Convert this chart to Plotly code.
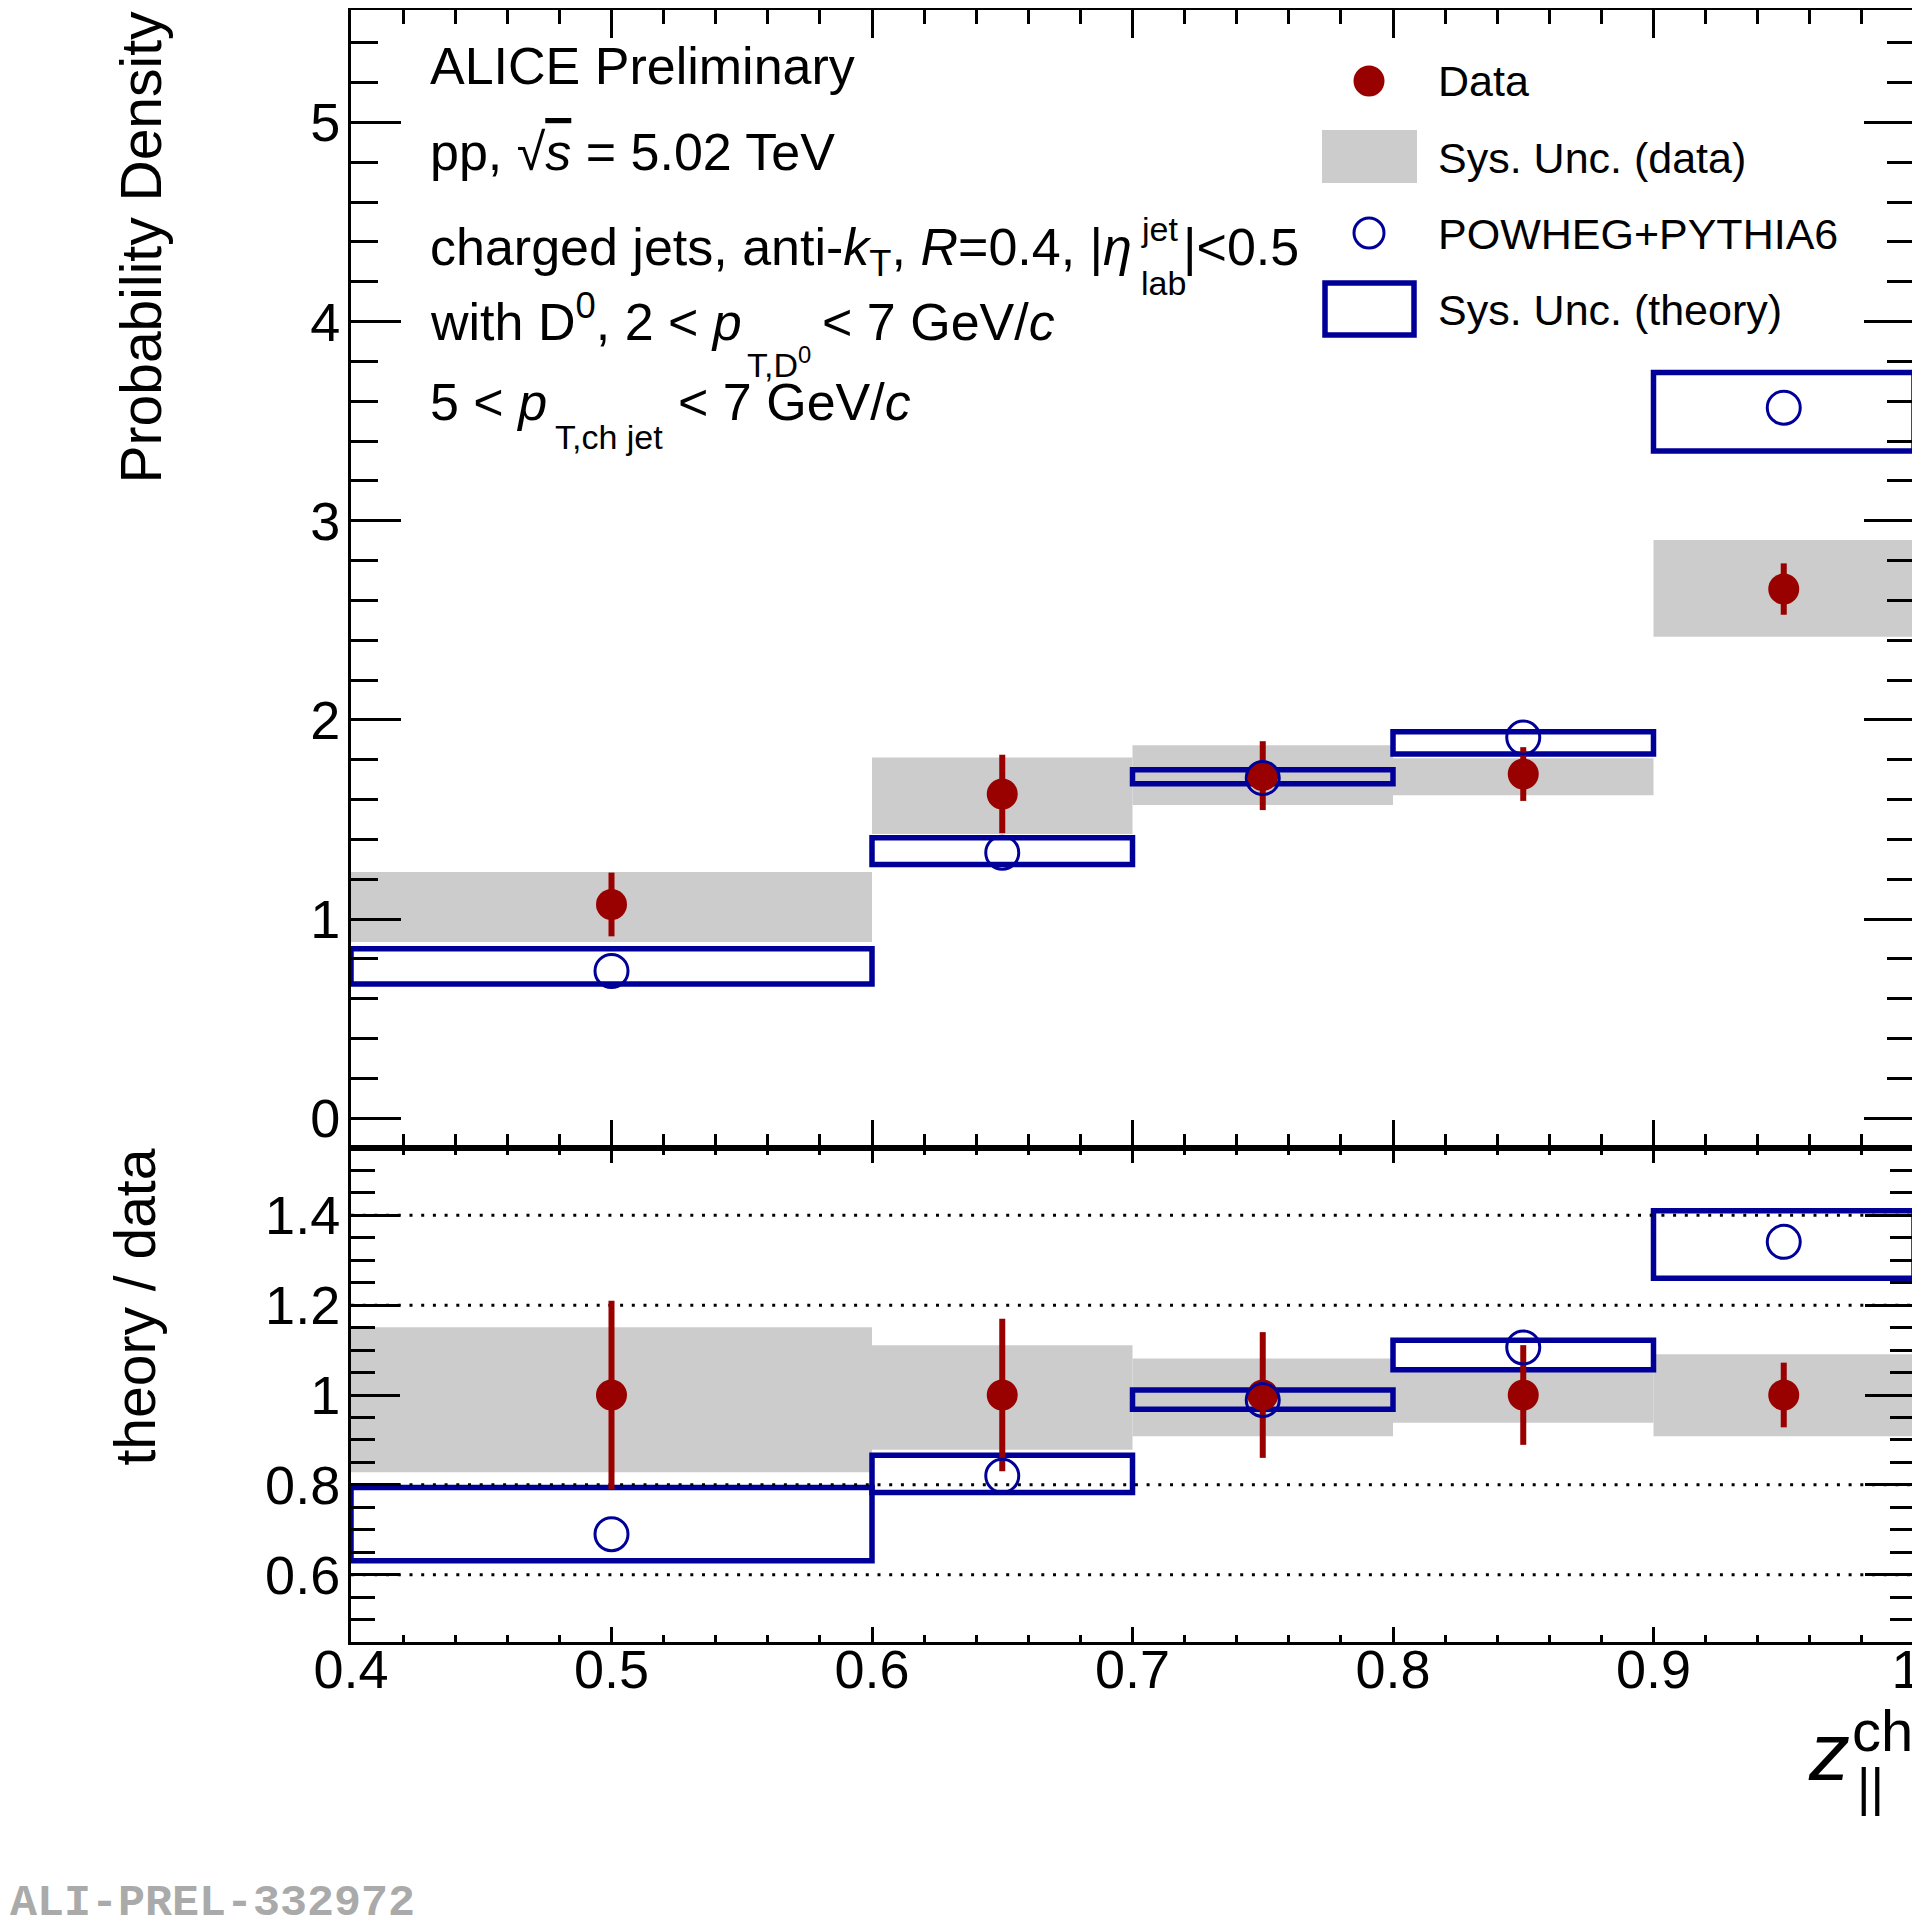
import plotly.graph_objects as go

# z_||^ch binning
z_edges = [0.4, 0.6, 0.7, 0.8, 0.9, 1.0]
z_centres = [0.5, 0.65, 0.75, 0.85, 0.95]

# upper panel: probability density
data_val = [1.073, 1.628, 1.72, 1.728, 2.657]
data_stat = [0.16, 0.197, 0.173, 0.135, 0.129]
data_sys_lo = [0.885, 1.427, 1.572, 1.621, 2.417]
data_sys_hi = [1.236, 1.811, 1.873, 1.807, 2.903]
theo_val = [0.739, 1.333, 1.708, 1.911, 3.568]
theo_sys_lo = [0.674, 1.274, 1.679, 1.829, 3.35]
theo_sys_hi = [0.850, 1.408, 1.749, 1.941, 3.744]

# lower panel: theory / data
ratio_data = [1.0, 1.0, 1.0, 1.0, 1.0]
ratio_stat = [0.21, 0.17, 0.14, 0.111, 0.072]
ratio_sys_lo = [0.828, 0.878, 0.908, 0.938, 0.908]
ratio_sys_hi = [1.151, 1.111, 1.081, 1.062, 1.091]
ratio_theo = [0.690, 0.820, 0.989, 1.106, 1.341]
ratio_theo_lo = [0.631, 0.783, 0.968, 1.056, 1.260]
ratio_theo_hi = [0.794, 0.866, 1.011, 1.122, 1.410]
ratio_lines = [0.6, 0.8, 1.2, 1.4]

# ticks
x_ticks = [0.4, 0.5, 0.6, 0.7, 0.8, 0.9, 1.0]
x_labels = ['0.4', '0.5', '0.6', '0.7', '0.8', '0.9', '1&nbsp;']
y_ticks = [0, 1, 2, 3, 4, 5]
y_labels = ['0', '1', '2', '3', '4', '5']
r_ticks = [0.6, 0.8, 1.0, 1.2, 1.4]
r_labels = ['0.6', '0.8', '1', '1.2', '1.4']

# the page body has an 8px margin, so the figure starts at (8, 8) on screen
OFF = 8
W, H = 1912, 1911
FONT = 'Liberation Sans, Arial, Helvetica, sans-serif'
RED = '#990000'
BLUE = '#000099'
GREY = '#cccccc'


def px(x):
   # screen pixel -> paper x
   return (x - OFF) / W


def py(y):
   # screen pixel (from top) -> paper y
   return 1 - (y - OFF) / H


widths = [b - a for a, b in zip(z_edges[:-1], z_edges[1:])]

fig = go.Figure()


def add_panel(xa, ya, val, stat, s_lo, s_hi, th, t_lo, t_hi):
   fig.add_trace(go.Bar(
      x=z_centres, y=[h - l for l, h in zip(s_lo, s_hi)], base=s_lo, width=widths,
      marker=dict(color=GREY, line=dict(width=0)),
      xaxis=xa, yaxis=ya, showlegend=False, hoverinfo='skip'))
   fig.add_trace(go.Bar(
      x=z_centres, y=[h - l for l, h in zip(t_lo, t_hi)], base=t_lo, width=widths,
      marker=dict(color='rgba(0,0,0,0)', line=dict(color=BLUE, width=5.5)),
      xaxis=xa, yaxis=ya, showlegend=False, hoverinfo='skip'))
   fig.add_trace(go.Scatter(
      x=z_centres, y=val, mode='markers',
      marker=dict(symbol='circle', size=31, color=RED),
      error_y=dict(type='data', array=stat, visible=True, color=RED, thickness=6, width=0),
      xaxis=xa, yaxis=ya, showlegend=False))
   fig.add_trace(go.Scatter(
      x=z_centres, y=th, mode='markers',
      marker=dict(symbol='circle-open', size=33, color=BLUE, line=dict(width=3)),
      xaxis=xa, yaxis=ya, showlegend=False))


# dotted reference lines in the ratio
for v in ratio_lines:
   fig.add_trace(go.Scatter(
      x=[z_edges[0], z_edges[-1]], y=[v, v], mode='lines',
      line=dict(color='black', width=3, dash='3px,8.7px'),
      xaxis='x2', yaxis='y2', showlegend=False, hoverinfo='skip'))

add_panel('x', 'y', data_val, data_stat, data_sys_lo, data_sys_hi,
          theo_val, theo_sys_lo, theo_sys_hi)
add_panel('x2', 'y2', ratio_data, ratio_stat, ratio_sys_lo, ratio_sys_hi,
          ratio_theo, ratio_theo_lo, ratio_theo_hi)

axis_style = dict(
   showline=True, linecolor='black', linewidth=3, mirror='allticks',
   ticks='inside', tickcolor='black', tickwidth=3,
   showgrid=False, zeroline=False, automargin=False,
   ticklabeloverflow='allow',
   tickfont=dict(family=FONT, size=54, color='black'),
)


def minor(dtick, length, tick0=0):
   return dict(tickmode='linear', tick0=tick0, dtick=dtick, ticklen=length,
               tickwidth=3, tickcolor='black', ticks='inside')


x_dom = [px(351), px(1914)]

fig.update_layout(
   width=W, height=H,
   margin=dict(l=0, r=0, t=0, b=0),
   paper_bgcolor='white', plot_bgcolor='white',
   barmode='overlay',
   font=dict(family=FONT, color='black'),
   xaxis=dict(axis_style, domain=x_dom, anchor='y', range=[0.4, 1.0],
              tickmode='array', tickvals=x_ticks, showticklabels=False,
              ticklen=28, minor=minor(0.02, 14, 0.4)),
   yaxis=dict(axis_style, domain=[py(1148), py(10)], anchor='x', range=[-0.15, 5.565],
              tickmode='array', tickvals=y_ticks, ticktext=y_labels,
              ticklen=50, ticklabelstandoff=-3, minor=minor(0.2, 27)),
   xaxis2=dict(axis_style, domain=x_dom, anchor='y2', range=[0.4, 1.0],
               tickmode='array', tickvals=x_ticks, ticktext=x_labels,
               ticklen=15, ticklabelstandoff=-22, minor=minor(0.02, 7, 0.4)),
   yaxis2=dict(axis_style, domain=[py(1642), py(1148)], anchor='x2', range=[0.45, 1.55],
               tickmode='array', tickvals=r_ticks, ticktext=r_labels,
               ticklen=49, ticklabelstandoff=-3, minor=minor(0.05, 24)),
)


def note(text, x, y, size, xanchor='left', yanchor='middle', **kw):
   return dict(text=text, x=px(x), y=py(y), xref='paper', yref='paper',
               xanchor=xanchor, yanchor=yanchor, showarrow=False,
               font=dict(family=kw.pop('family', FONT), size=size,
                         color=kw.pop('color', 'black')), **kw)


annotations = [
   note('ALICE Preliminary', 428, 66, 52),
   note('pp, √<span style="text-decoration:overline"><i>s</i></span> = 5.02 TeV', 428, 152, 52),
   note('charged jets, anti-<i>k</i><sub>T</sub>, <i>R</i>=0.4, |<i>η</i>', 428, 251, 52),
   note('jet', 1139, 229, 34),
   note('lab', 1139, 283, 34),
   note('|&lt;0.5', 1181, 247, 52),
   note('with D<sup>0</sup>, 2 &lt; <i>p</i>', 428, 318, 52),
   note('T,D<sup>0</sup>', 745, 362, 34),
   note('&lt; 7 GeV/<i>c</i>', 820, 322, 52),
   note('5 &lt; <i>p</i>', 428, 402, 52),
   note('T,ch jet', 553, 437, 34),
   note('&lt; 7 GeV/<i>c</i>', 676, 402, 52),
   # legend
   note('Data', 1436, 81, 43),
   note('Sys. Unc. (data)', 1436, 158, 43),
   note('POWHEG+PYTHIA6', 1436, 234, 43),
   note('Sys. Unc. (theory)', 1436, 310, 43),
   # axis titles
   note('Probability Density', 141, 9, 57, xanchor='center', yanchor='top', textangle=-90),
   note('theory / data', 134, 1147, 57, xanchor='center', yanchor='top', textangle=-90),
   note('<i>z</i>', 1852, 1751, 82, xanchor='right'),
   note('ch', 1850, 1730, 58),
   note('||', 1855, 1787, 52),
   # watermark
   note('<b>ALI-PREL-332972</b>', 8, 1903, 45, family='Liberation Mono, Courier New, monospace',
        color='#aaaaaa'),
]

shapes = [
   dict(type='circle', xref='paper', yref='paper',
        x0=px(1369 - 15.5), x1=px(1369 + 15.5), y0=py(81 + 15.5), y1=py(81 - 15.5),
        fillcolor=RED, line=dict(width=0)),
   dict(type='rect', xref='paper', yref='paper',
        x0=px(1322), x1=px(1417), y0=py(183), y1=py(130),
        fillcolor=GREY, line=dict(width=0)),
   dict(type='circle', xref='paper', yref='paper',
        x0=px(1369 - 15), x1=px(1369 + 15), y0=py(233 + 15), y1=py(233 - 15),
        fillcolor='rgba(0,0,0,0)', line=dict(color=BLUE, width=3)),
   dict(type='rect', xref='paper', yref='paper',
        x0=px(1325), x1=px(1414), y0=py(335), y1=py(283),
        fillcolor='rgba(0,0,0,0)', line=dict(color=BLUE, width=5.5)),
]

fig.update_layout(annotations=annotations, shapes=shapes)

fig.write_html("out.html")
